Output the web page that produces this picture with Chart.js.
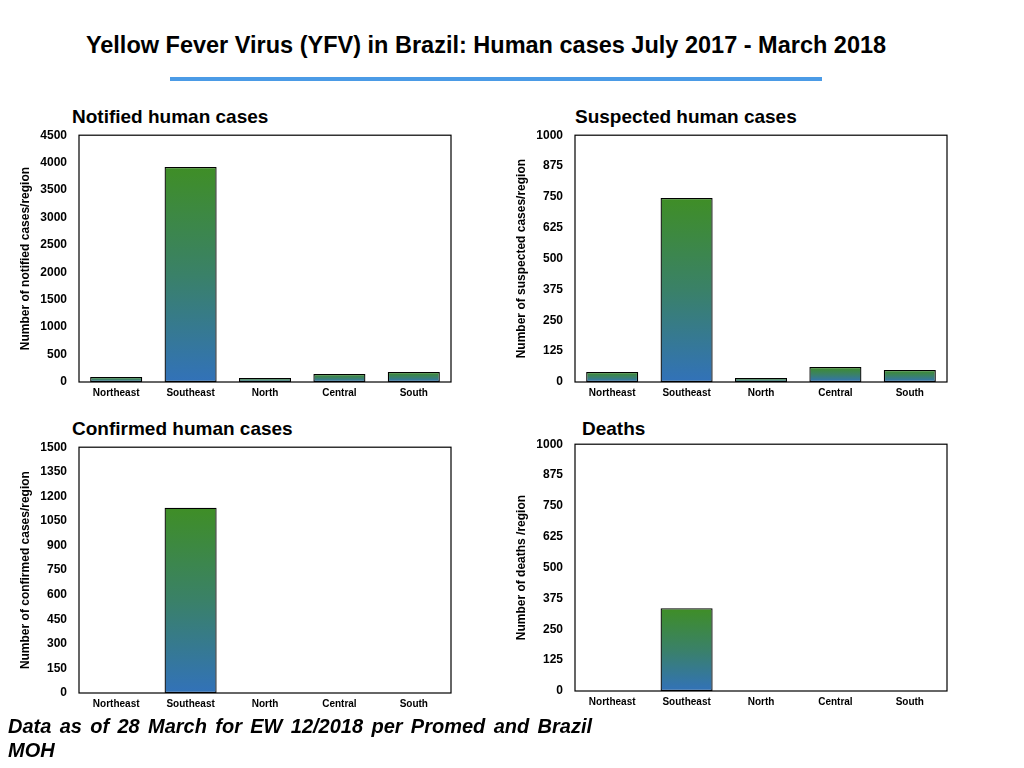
<!DOCTYPE html>
<html>
<head>
<meta charset="utf-8">
<script src="https://cdn.jsdelivr.net/npm/chart.js@4"></script>
<style>
  html, body { margin:0; padding:0; background:#fff; }
  body { width:1024px; height:768px; position:relative; overflow:hidden; font-family:"Liberation Sans", Arial, sans-serif; }
  #title { position:absolute; left:0; width:972px; top:32px; text-align:center; font-family:"Liberation Sans",Arial,sans-serif; font-weight:bold; font-size:23.5px; color:#000; }
  #rule { position:absolute; left:170px; top:77px; width:652px; height:4px; background:#4b9be6; }
  .ct { position:absolute; font-weight:bold; font-size:19px; color:#000; white-space:nowrap; }
  .cv { position:absolute; }
  #note { position:absolute; left:8px; top:714px; width:584px; font-weight:bold; font-style:italic; font-size:20px; line-height:24px; text-align:justify; text-align-last:left; color:#000; }
</style>
</head>
<body>
<div id="title">Yellow Fever Virus (YFV) in Brazil: Human cases July 2017 - March 2018</div>
<div id="rule"></div>

<div class="ct" style="left:72px; top:106px;">Notified human cases</div>
<div class="ct" style="left:575px; top:106px;">Suspected human cases</div>
<div class="ct" style="left:72px; top:418px;">Confirmed human cases</div>
<div class="ct" style="left:582px; top:418px;">Deaths</div>

<div class="cv" style="left:0px; top:116px; width:460px; height:294px;"><canvas id="c1"></canvas></div>
<div class="cv" style="left:510px; top:116px; width:460px; height:294px;"><canvas id="c2"></canvas></div>
<div class="cv" style="left:0px; top:428px; width:460px; height:293px;"><canvas id="c3"></canvas></div>
<div class="cv" style="left:510px; top:425px; width:460px; height:294px;"><canvas id="c4"></canvas></div>

<div id="note">Data as of 28 March for EW 12/2018 per Promed and Brazil MOH</div>

<script>
const regions = ["Northeast", "Southeast", "North", "Central", "South"];

const notifiedCases  = [91, 3922, 73, 146, 182];
const suspectedCases = [41, 746, 16, 61, 49];
const confirmedCases = [0, 1131, 0, 0, 0];
const deathCases     = [0, 335, 0, 0, 0];

const notifiedTicks  = [0, 500, 1000, 1500, 2000, 2500, 3000, 3500, 4000, 4500];
const suspectedTicks = [0, 125, 250, 375, 500, 625, 750, 875, 1000];
const confirmedTicks = [0, 150, 300, 450, 600, 750, 900, 1050, 1200, 1350, 1500];
const deathTicks     = [0, 125, 250, 375, 500, 625, 750, 875, 1000];

const frame = {
  id: 'frame',
  beforeDatasetsDraw(chart) {
    const a = chart.chartArea, c = chart.ctx;
    c.save();
    c.strokeStyle = '#000';
    c.lineWidth = 1.2;
    c.strokeRect(a.left, a.top, a.right - a.left, a.bottom - a.top);
    c.restore();
  }
};

function gradFill(ctx) {
  const chart = ctx.chart;
  const y = chart.scales.y;
  if (!y || ctx.raw === undefined) return '#3a8a3a';
  const top = y.getPixelForValue(ctx.raw);
  const base = y.getPixelForValue(0);
  if (!isFinite(top) || !isFinite(base) || base - top < 0.5) return '#3a8a3a';
  const g = chart.ctx.createLinearGradient(0, top, 0, base);
  g.addColorStop(0, '#3f8e26');
  g.addColorStop(0.5, '#3a8168');
  g.addColorStop(1, '#3272b9');
  return g;
}

function makeChart(id, data, ticks, axisTitle, yWidth, rightPad, titlePad) {
  const max = ticks[ticks.length - 1];
  new Chart(document.getElementById(id), {
    type: 'bar',
    data: {
      labels: regions,
      datasets: [{
        data: data,
        backgroundColor: gradFill,
        borderColor: '#000',
        borderWidth: 1.3,
        borderSkipped: false,
        categoryPercentage: 1.0,
        barPercentage: 0.7
      }]
    },
    options: {
      responsive: true,
      maintainAspectRatio: false,
      animation: false,
      layout: { padding: { top: 1, right: rightPad, left: 0, bottom: 0 } },
      plugins: { legend: { display: false }, tooltip: { enabled: false } },
      scales: {
        x: {
          grid: { display: false, drawTicks: false },
          border: { display: false },
          ticks: { color: '#000', font: { family: 'Liberation Sans', weight: 'bold', size: 10 }, padding: 5, maxRotation: 0 },
          afterFit(s) { s.height = 28; }
        },
        y: {
          min: 0, max: max,
          afterBuildTicks(s) { s.ticks = ticks.map(v => ({ value: v })); },
          grid: { display: false, drawTicks: false },
          border: { display: false },
          ticks: { color: '#000', font: { family: 'Liberation Sans', weight: 'bold', size: 12 }, padding: 12, callback: v => String(v) },
          title: { display: true, text: axisTitle, color: '#000', font: { family: 'Liberation Sans', weight: 'bold', size: 12 }, padding: { top: titlePad, bottom: 0 } },
          afterFit(s) { s.width = yWidth; }
        }
      }
    },
    plugins: [frame]
  });
}

makeChart('c1', notifiedCases, notifiedTicks, 'Number of notified cases/region', 79, 9, 18);
makeChart('c2', suspectedCases, suspectedTicks, 'Number of suspected cases/region', 65, 23, 4);
makeChart('c3', confirmedCases, confirmedTicks, 'Number of confirmed cases/region', 79, 9, 18);
makeChart('c4', deathCases, deathTicks, 'Number of deaths /region', 65, 23, 4);
</script>
</body>
</html>
